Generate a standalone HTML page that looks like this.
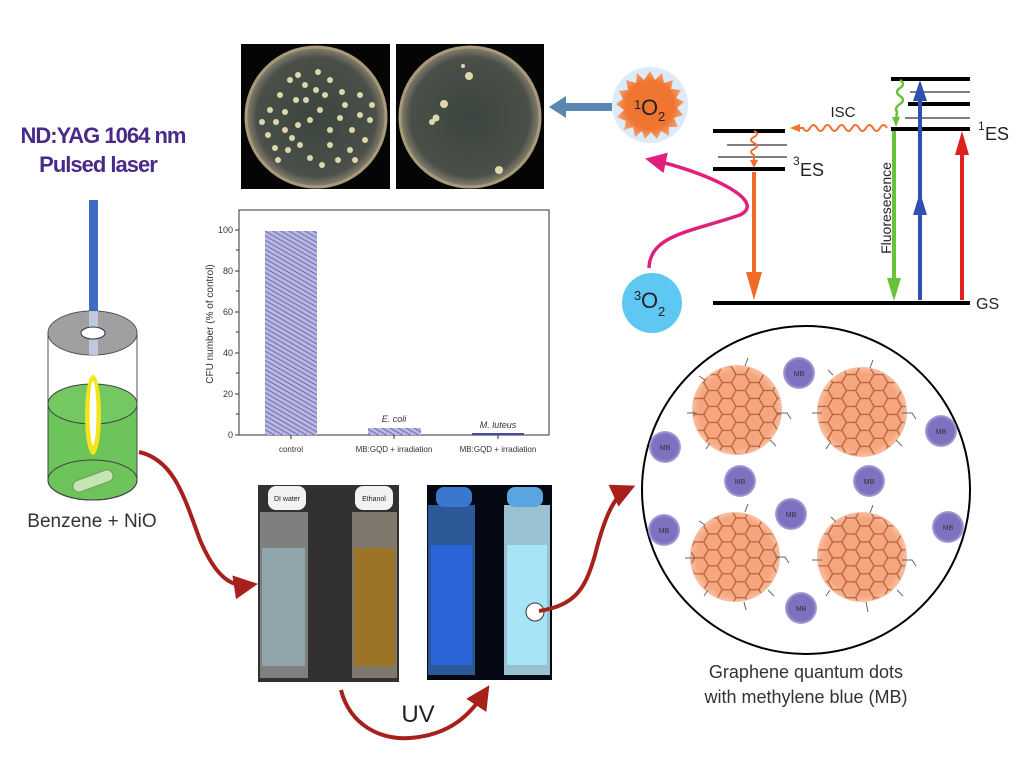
<!DOCTYPE html>
<html><head><meta charset="utf-8"><style>
html,body{margin:0;padding:0;background:#fff;}
svg{display:block;}
text{font-family:"Liberation Sans",sans-serif;}
</style></head><body>
<svg width="1024" height="768" viewBox="0 0 1024 768" xmlns="http://www.w3.org/2000/svg">
<defs>
<pattern id="hex" width="24" height="13.86" patternUnits="userSpaceOnUse" patternTransform="scale(1.15)">
<path d="M4,0 L12,0 L16,6.93 L12,13.86 L4,13.86 L0,6.93 Z M16,6.93 L24,6.93" fill="none" stroke="#b5623a" stroke-width="1.1"/>
</pattern>
<pattern id="hatch" width="4" height="4" patternUnits="userSpaceOnUse" patternTransform="rotate(-60)">
<rect width="4" height="4" fill="#b8b8e0"/><line x1="0" y1="0" x2="0" y2="4" stroke="#5a5aa8" stroke-width="1.6"/>
</pattern>
<radialGradient id="gqd"><stop offset="0.85" stop-color="#f6a67e"/><stop offset="1" stop-color="#f8c0a2"/></radialGradient>
<radialGradient id="mb"><stop offset="0.8" stop-color="#7d72c0"/><stop offset="1" stop-color="#b0a8dc"/></radialGradient>
<radialGradient id="o1"><stop offset="0.7" stop-color="#f07530"/><stop offset="1" stop-color="#f4a070"/></radialGradient>
<radialGradient id="dish"><stop offset="0" stop-color="#3c4540"/><stop offset="0.85" stop-color="#4a4f48"/><stop offset="1" stop-color="#8a8270"/></radialGradient>
<marker id="ar" markerWidth="6" markerHeight="6" refX="4" refY="3" orient="auto" markerUnits="strokeWidth"><path d="M0,0 L6,3 L0,6 z" fill="#a8201c"/></marker>
<marker id="am" markerWidth="6" markerHeight="6" refX="4" refY="3" orient="auto" markerUnits="strokeWidth"><path d="M0,0 L6,3 L0,6 z" fill="#e0207a"/></marker>
</defs>

<text x="103" y="143" font-size="22" font-weight="bold" fill="#4a2a88" text-anchor="middle" letter-spacing="-1">ND:YAG 1064 nm</text>
<text x="98" y="172" font-size="22" font-weight="bold" fill="#4a2a88" text-anchor="middle" letter-spacing="-1">Pulsed laser</text>

<rect x="89" y="200" width="9" height="220" fill="#3c6cc4"/>
<path d="M48,333 L48,480 A44.5,20 0 0 0 137,480 L137,333" fill="#fff" stroke="#555" stroke-width="1"/>
<path d="M48,404 L48,480 A44.5,20 0 0 0 137,480 L137,404 Z" fill="#6cc45a" stroke="#444" stroke-width="1"/>
<ellipse cx="92.5" cy="404" rx="44.5" ry="20" fill="#74c862" stroke="#444" stroke-width="1"/>
<ellipse cx="92.5" cy="480" rx="44.5" ry="20" fill="none" stroke="#444" stroke-width="1"/>
<ellipse cx="92.5" cy="333" rx="44.5" ry="22" fill="#a0a0a2" stroke="#555" stroke-width="1"/>
<rect x="89" y="311" width="9" height="44" fill="#c8d4ee" opacity="0.8"/>
<ellipse cx="93" cy="333" rx="12" ry="6" fill="#fff" stroke="#333"/>
<ellipse cx="93" cy="415" rx="8" ry="40" fill="#f4e41a"/>
<ellipse cx="93" cy="413" rx="3.5" ry="32" fill="#fff"/>
<rect x="72" y="475" width="42" height="12" rx="6" fill="#c4e4b4" stroke="#6a9a60" transform="rotate(-20 93 481)"/>
<text x="92" y="527" font-size="19" fill="#333" text-anchor="middle">Benzene + NiO</text>
<path d="M139,452 C175,460 185,500 200,540 C215,575 230,588 250,585" fill="none" stroke="#a8201c" stroke-width="4" marker-end="url(#ar)"/>

<rect x="241" y="44" width="149" height="145" fill="#050505"/>
<rect x="396" y="44" width="148" height="145" fill="#050505"/>
<circle cx="316" cy="117" r="70" fill="url(#dish)" stroke="#a89a78" stroke-width="3"/>
<circle cx="470" cy="117" r="70" fill="url(#dish)" stroke="#a89a78" stroke-width="3"/>
<g fill="#dcd8ac">
<circle cx="290" cy="80" r="3"/><circle cx="298" cy="75" r="3"/><circle cx="305" cy="85" r="3"/><circle cx="318" cy="72" r="3"/><circle cx="330" cy="80" r="3"/><circle cx="342" cy="92" r="3"/><circle cx="280" cy="95" r="3"/><circle cx="270" cy="110" r="3"/><circle cx="276" cy="122" r="3"/><circle cx="285" cy="130" r="3"/><circle cx="292" cy="138" r="3"/><circle cx="300" cy="145" r="3"/><circle cx="268" cy="135" r="3"/><circle cx="275" cy="148" r="3"/><circle cx="310" cy="120" r="3"/><circle cx="320" cy="110" r="3"/><circle cx="330" cy="130" r="3"/><circle cx="340" cy="118" r="3"/><circle cx="352" cy="130" r="3"/><circle cx="360" cy="115" r="3"/><circle cx="365" cy="140" r="3"/><circle cx="350" cy="150" r="3"/><circle cx="338" cy="160" r="3"/><circle cx="322" cy="165" r="3"/><circle cx="310" cy="158" r="3"/><circle cx="296" cy="100" r="3"/><circle cx="306" cy="100" r="3"/><circle cx="345" cy="105" r="3"/><circle cx="360" cy="95" r="3"/><circle cx="370" cy="120" r="3"/><circle cx="285" cy="112" r="3"/><circle cx="262" cy="122" r="3"/><circle cx="298" cy="125" r="3"/><circle cx="288" cy="150" r="3"/><circle cx="330" cy="145" r="3"/><circle cx="316" cy="90" r="3"/><circle cx="325" cy="95" r="3"/><circle cx="355" cy="160" r="3"/><circle cx="372" cy="105" r="3"/><circle cx="278" cy="160" r="3"/>
<circle cx="469" cy="76" r="4"/><circle cx="444" cy="104" r="4"/><circle cx="436" cy="118" r="3.5"/><circle cx="432" cy="122" r="3"/><circle cx="499" cy="170" r="4"/><circle cx="463" cy="66" r="2"/>
</g>
<path d="M612,107 L562,107" stroke="#5a86b0" stroke-width="8"/>
<path d="M566,96 L549,107 L566,118 Z" fill="#5a86b0"/>

<rect x="239" y="210" width="310" height="225" fill="none" stroke="#333" stroke-width="1"/>
<g font-size="9" fill="#333" text-anchor="end">
<text x="233" y="438">0</text><text x="233" y="397">20</text><text x="233" y="356">40</text><text x="233" y="315">60</text><text x="233" y="274">80</text><text x="233" y="233">100</text>
</g>
<g stroke="#333" stroke-width="1">
<line x1="235" y1="435" x2="239" y2="435"/><line x1="235" y1="394" x2="239" y2="394"/><line x1="235" y1="353" x2="239" y2="353"/><line x1="235" y1="312" x2="239" y2="312"/><line x1="235" y1="271" x2="239" y2="271"/><line x1="235" y1="230" x2="239" y2="230"/>
<line x1="236" y1="414" x2="239" y2="414"/><line x1="236" y1="373" x2="239" y2="373"/><line x1="236" y1="332" x2="239" y2="332"/><line x1="236" y1="291" x2="239" y2="291"/><line x1="236" y1="250" x2="239" y2="250"/>
<line x1="291" y1="435" x2="291" y2="439"/><line x1="394" y1="435" x2="394" y2="439"/><line x1="498" y1="435" x2="498" y2="439"/>
</g>
<rect x="265" y="231" width="52" height="204" fill="url(#hatch)"/>
<rect x="368" y="428" width="53" height="7" fill="url(#hatch)"/>
<rect x="472" y="433" width="52" height="2" fill="#4a4aa0"/>
<text x="394" y="422" font-size="9" font-style="italic" fill="#333" text-anchor="middle">E. coli</text>
<text x="498" y="428" font-size="9" font-style="italic" fill="#333" text-anchor="middle">M. luteus</text>
<g font-size="8" fill="#333" text-anchor="middle">
<text x="291" y="452">control</text><text x="394" y="452">MB:GQD + irradiation</text><text x="498" y="452">MB:GQD + irradiation</text>
</g>
<text transform="translate(213,324) rotate(-90)" font-size="10" fill="#333" text-anchor="middle">CFU number (% of control)</text>

<rect x="258" y="485" width="141" height="197" fill="#33312f"/>
<rect x="260" y="512" width="48" height="166" fill="#c8cfcf" opacity="0.5"/>
<rect x="262" y="548" width="43" height="118" fill="#8fa4ab"/>
<rect x="352" y="512" width="45" height="166" fill="#c8c0a8" opacity="0.5"/>
<rect x="354" y="548" width="41" height="118" fill="#9c7428"/>
<rect x="268" y="486" width="38" height="24" rx="8" fill="#f2f2f2"/>
<rect x="355" y="486" width="38" height="24" rx="8" fill="#f2f2f2"/>
<text x="287" y="501" font-size="7" fill="#222" text-anchor="middle">DI water</text>
<text x="374" y="501" font-size="7" fill="#222" text-anchor="middle">Ethanol</text>
<rect x="427" y="485" width="125" height="195" fill="#040812"/>
<rect x="428" y="505" width="47" height="170" fill="#4a8ef0" opacity="0.6"/>
<rect x="431" y="545" width="41" height="120" fill="#2a66d8"/>
<rect x="504" y="505" width="46" height="170" fill="#bff0ff" opacity="0.8"/>
<rect x="507" y="545" width="40" height="120" fill="#a6e4f6"/>
<rect x="436" y="487" width="36" height="20" rx="8" fill="#3a78d0"/>
<rect x="507" y="487" width="36" height="20" rx="8" fill="#5aa4e0"/>
<circle cx="535" cy="612" r="9" fill="#fff" stroke="#333" stroke-width="1"/>
<path d="M539,611 C575,605 585,590 595,555 C605,515 615,495 628,489" fill="none" stroke="#a8201c" stroke-width="4" marker-end="url(#ar)"/>
<path d="M341,690 C350,725 380,740 410,738 C450,735 470,715 485,692" fill="none" stroke="#a8201c" stroke-width="4" marker-end="url(#ar)"/>
<text x="418" y="722" font-size="24" fill="#222" text-anchor="middle">UV</text>

<g transform="translate(650,105)">
<circle r="38" fill="#bcd6f0" opacity="0.5"/>
<polygon fill="url(#o1)" points="0,-34 5,-25 12,-32 14,-22 23,-25 21,-16 31,-15 26,-7 34,-3 27,3 33,10 24,13 28,22 19,22 19,31 11,26 7,34 1,27 -5,34 -8,26 -15,32 -17,22 -26,25 -24,16 -33,12 -26,5 -34,-1 -27,-6 -31,-14 -22,-15 -24,-25 -14,-22 -13,-32 -6,-25"/>
<text x="-16" y="4" font-size="13" fill="#222">1</text><text x="-9" y="10" font-size="22" fill="#222">O</text><text x="8" y="16" font-size="13" fill="#222">2</text>
</g>
<circle cx="652" cy="303" r="30" fill="#5ec8f2"/>
<text x="634" y="300" font-size="13" fill="#222">3</text><text x="641" y="308" font-size="22" fill="#222">O</text><text x="658" y="316" font-size="13" fill="#222">2</text>
<path d="M649,268 C650,235 690,232 740,215 C770,200 700,170 652,160" fill="none" stroke="#e0207a" stroke-width="3.5" marker-end="url(#am)"/>

<g stroke="#000">
<line x1="713" y1="131" x2="785" y2="131" stroke-width="4"/>
<line x1="727" y1="145" x2="787" y2="145" stroke-width="1"/>
<line x1="718" y1="157" x2="787" y2="157" stroke-width="1"/>
<line x1="713" y1="169" x2="785" y2="169" stroke-width="4"/>
<line x1="713" y1="303" x2="970" y2="303" stroke-width="4"/>
<line x1="891" y1="79" x2="970" y2="79" stroke-width="4"/>
<line x1="910" y1="92" x2="970" y2="92" stroke-width="1"/>
<line x1="908" y1="104" x2="970" y2="104" stroke-width="4"/>
<line x1="905" y1="118" x2="970" y2="118" stroke-width="1"/>
<line x1="891" y1="129" x2="970" y2="129" stroke-width="4"/>
</g>
<text x="978" y="130" font-size="12" fill="#222">1</text><text x="985" y="140" font-size="18" fill="#222">ES</text>
<text x="793" y="165" font-size="12" fill="#222">3</text><text x="800" y="176" font-size="18" fill="#222">ES</text>
<text x="976" y="309" font-size="16" fill="#222">GS</text>
<text x="843" y="117" font-size="15" fill="#222" text-anchor="middle">ISC</text>
<path d="M887,128 q-3.5,-6 -7,0 t-7,0 t-7,0 t-7,0 t-7,0 t-7,0 t-7,0 t-7,0 t-7,0 t-7,0 t-7,0 t-7,0 L797,128" fill="none" stroke="#f07030" stroke-width="2"/>
<path d="M800,124 L790,128 L800,132 Z" fill="#f07030"/>
<path d="M754,131 q6,3 0,6 t0,6 t0,6 t0,6 L754,160" fill="none" stroke="#f07030" stroke-width="2"/>
<path d="M750,160 L754,168 L758,160 Z" fill="#f07030"/>
<line x1="754" y1="172" x2="754" y2="275" stroke="#f06a28" stroke-width="4"/>
<path d="M746,272 L754,300 L762,272 Z" fill="#f06a28"/>
<path d="M900,80 q6,4 0,8 t0,8 t0,8 t-3,8 L896,120" fill="none" stroke="#6ac23a" stroke-width="2.5"/>
<path d="M892,117 L896,127 L900,117 Z" fill="#6ac23a"/>
<line x1="894" y1="131" x2="894" y2="282" stroke="#6ac23a" stroke-width="4"/>
<path d="M887,278 L894,301 L901,278 Z" fill="#6ac23a"/>
<line x1="920" y1="300" x2="920" y2="95" stroke="#3050b0" stroke-width="4"/>
<path d="M913,215 L920,192 L927,215 Z" fill="#3050b0"/>
<path d="M913,101 L920,80 L927,101 Z" fill="#3050b0"/>
<line x1="962" y1="300" x2="962" y2="150" stroke="#e02020" stroke-width="4"/>
<path d="M955,155 L962,131 L969,155 Z" fill="#e02020"/>
<text transform="translate(891,208) rotate(-90)" font-size="14" fill="#222" text-anchor="middle">Fluoresecence</text>

<circle cx="806" cy="490" r="164" fill="#fff" stroke="#000" stroke-width="2"/>
<g>
<circle cx="737" cy="410" r="45" fill="url(#gqd)"/><circle cx="737" cy="410" r="44" fill="url(#hex)"/>
<circle cx="862" cy="412" r="45" fill="url(#gqd)"/><circle cx="862" cy="412" r="44" fill="url(#hex)"/>
<circle cx="735" cy="557" r="45" fill="url(#gqd)"/><circle cx="735" cy="557" r="44" fill="url(#hex)"/>
<circle cx="862" cy="557" r="45" fill="url(#gqd)"/><circle cx="862" cy="557" r="44" fill="url(#hex)"/>
</g>
<g stroke="#666" stroke-width="1" fill="none">
<path d="M697,413 l-10,0"/><path d="M777,413 l10,0 l4,6"/><path d="M745,366 l3,-8"/><path d="M705,380 l-6,-4"/><path d="M710,443 l-4,6"/><path d="M770,440 l6,6"/>
<path d="M822,413 l-10,0"/><path d="M902,413 l10,0 l4,6"/><path d="M870,368 l3,-8"/><path d="M833,375 l-5,-5"/><path d="M896,440 l6,6"/><path d="M830,443 l-4,6"/>
<path d="M695,558 l-10,0"/><path d="M775,557 l10,0 l4,6"/><path d="M745,512 l3,-8"/><path d="M705,525 l-6,-4"/><path d="M708,590 l-4,6"/><path d="M768,590 l6,6"/><path d="M744,602 l2,8"/>
<path d="M822,560 l-10,0"/><path d="M902,560 l10,0 l4,6"/><path d="M870,513 l3,-8"/><path d="M836,522 l-5,-5"/><path d="M897,590 l6,6"/><path d="M830,590 l-4,6"/><path d="M866,602 l2,10"/>
</g>
<g>
<circle cx="799" cy="373" r="16" fill="url(#mb)"/><circle cx="665" cy="447" r="16" fill="url(#mb)"/><circle cx="740" cy="481" r="16" fill="url(#mb)"/><circle cx="941" cy="431" r="16" fill="url(#mb)"/><circle cx="869" cy="481" r="16" fill="url(#mb)"/><circle cx="791" cy="514" r="16" fill="url(#mb)"/><circle cx="664" cy="530" r="16" fill="url(#mb)"/><circle cx="948" cy="527" r="16" fill="url(#mb)"/><circle cx="801" cy="608" r="16" fill="url(#mb)"/>
</g>
<g font-size="7" fill="#333" text-anchor="middle">
<text x="799" y="376">MB</text><text x="665" y="450">MB</text><text x="740" y="484">MB</text><text x="941" y="434">MB</text><text x="869" y="484">MB</text><text x="791" y="517">MB</text><text x="664" y="533">MB</text><text x="948" y="530">MB</text><text x="801" y="611">MB</text>
</g>
<text x="806" y="678" font-size="18" fill="#333" text-anchor="middle">Graphene quantum dots</text>
<text x="806" y="703" font-size="18" fill="#333" text-anchor="middle">with methylene blue (MB)</text>
</svg>
</body></html>
